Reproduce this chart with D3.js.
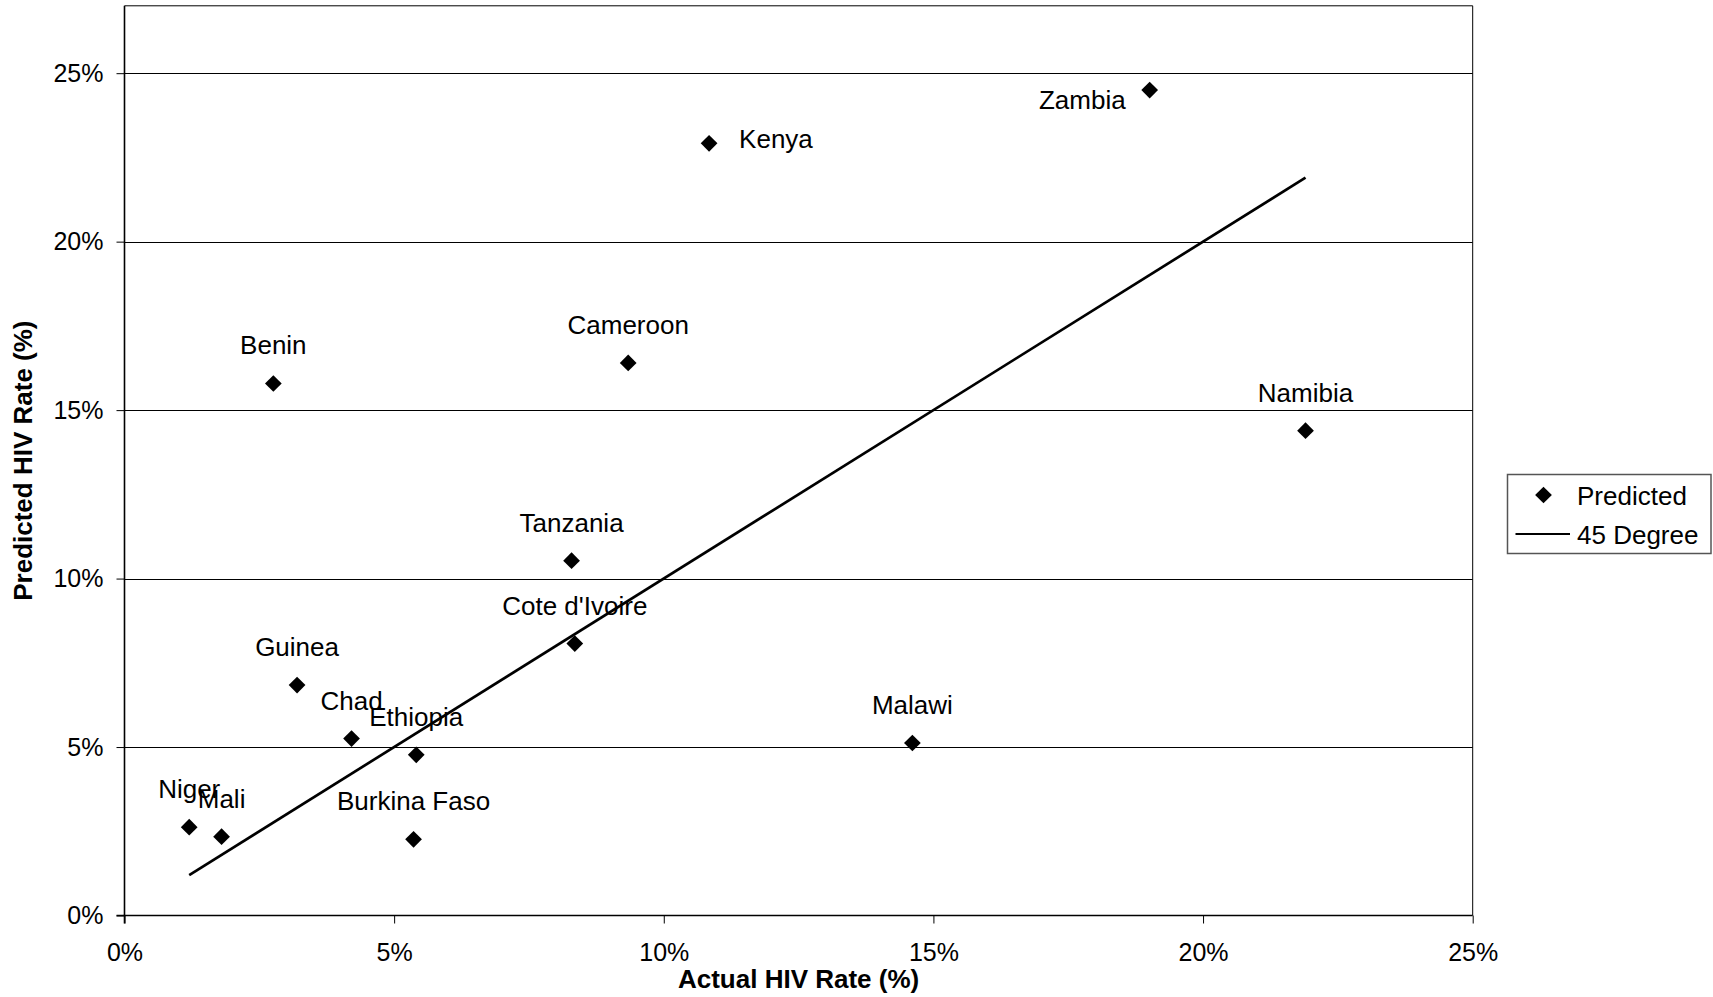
<!DOCTYPE html>
<html>
<head>
<meta charset="utf-8">
<script src="https://cdn.jsdelivr.net/npm/d3@7/dist/d3.min.js"></script>
<style>
  html, body { margin: 0; padding: 0; background: #fff; }
  svg { display: block; font-family: "Liberation Sans", Arial, sans-serif; }
</style>
</head>
<body>
<svg id="chart" width="1713" height="997"></svg>
<script>
// ---- Data ----
const countries = ["Niger", "Mali", "Benin", "Guinea", "Chad", "Ethiopia", "Burkina Faso",
                   "Tanzania", "Cote d'Ivoire", "Cameroon", "Kenya", "Malawi", "Zambia", "Namibia"];
const actual    = [1.20, 1.80, 2.76, 3.20, 4.21, 5.41, 5.36, 8.29, 8.35, 9.34, 10.84, 14.61, 19.01, 21.90];
const predicted = [2.62, 2.34, 15.79, 6.84, 5.25, 4.77, 2.26, 10.53, 8.07, 16.40, 22.92, 5.12, 24.50, 14.39];
const labelSide = { "Zambia": "left", "Kenya": "right" };
const xTicks = [0, 5, 10, 15, 20, 25];
const yTicks = [0, 5, 10, 15, 20, 25];
const seriesNames = ["Predicted", "45 Degree"];

// ---- Layout ----
const svg = d3.select("#chart");
const pL = 124.5, pR = 1472.7, pT = 5.8, pB = 915.5;
const x = d3.scaleLinear().domain([0, 25]).range([pL, pR]);
const y = d3.scaleLinear().domain([0, 27]).range([pB, pT]);
const fontSize = 25;

// Gridlines
svg.append("g").selectAll("line").data(yTicks.filter(t => t > 0)).join("line")
  .attr("x1", pL).attr("x2", pR)
  .attr("y1", d => Math.round(y(d)) + 0.5).attr("y2", d => Math.round(y(d)) + 0.5)
  .attr("stroke", "#000").attr("stroke-width", 1);

// Frame top/right
svg.append("path")
  .attr("d", `M${pL},${pT}H${pR}V${pB}`)
  .attr("fill", "none").attr("stroke", "#000").attr("stroke-width", 1);

// Axes
const xAxis = d3.axisBottom(x).tickValues(xTicks).tickFormat(d => d + "%").tickSize(8).tickPadding(20);
const yAxis = d3.axisLeft(y).tickValues(yTicks).tickFormat(d => d + "%").tickSize(8).tickPadding(13);

const gx = svg.append("g").attr("transform", `translate(0,${pB})`).call(xAxis);
const gy = svg.append("g").attr("transform", `translate(${pL},0)`).call(yAxis);
[gx, gy].forEach(g => {
  g.select(".domain").attr("stroke", "#000").attr("stroke-width", 1.6);
  g.selectAll(".tick line").attr("stroke", "#000").attr("stroke-width", 1);
  g.selectAll(".tick text").attr("fill", "#000").style("font-size", fontSize + "px")
    .style("font-family", "'Liberation Sans', Arial, sans-serif");
});
gy.select(".domain").attr("d", `M-8,${pB}H0V${pT}`);
gx.select(".domain").attr("d", `M${pL},8V0H${pR}`);

// Axis titles
svg.append("text")
  .attr("x", (pL + pR) / 2).attr("y", 988)
  .attr("text-anchor", "middle")
  .style("font-size", "26px").style("font-weight", "bold")
  .text("Actual HIV Rate (%)");
svg.append("text")
  .attr("transform", `translate(32,${(pT + pB) / 2}) rotate(-90)`)
  .attr("text-anchor", "middle")
  .style("font-size", "26px").style("font-weight", "bold")
  .text("Predicted HIV Rate (%)");

// 45 degree line
const lo = d3.min(actual), hi = d3.max(actual);
svg.append("path")
  .datum([lo, hi])
  .attr("d", d3.line().x(d => x(d)).y(d => y(d)))
  .attr("stroke", "#000").attr("stroke-width", 2.7).attr("fill", "none");

// Points
const data = countries.map((c, i) => ({ name: c, ax: actual[i], py: predicted[i] }));
const diamond = d3.symbol(d3.symbolSquare, 140);
svg.append("g").selectAll("path").data(data).join("path")
  .attr("d", diamond)
  .attr("transform", d => `translate(${x(d.ax)},${y(d.py)}) rotate(45)`)
  .attr("fill", "#000");

// Labels
svg.append("g").selectAll("text").data(data).join("text")
  .attr("x", d => {
    const s = labelSide[d.name];
    return x(d.ax) + (s === "left" ? -24 : s === "right" ? 30 : 0);
  })
  .attr("y", d => {
    const s = labelSide[d.name];
    return y(d.py) + (s === "left" ? 19 : s === "right" ? 5 : -29);
  })
  .attr("text-anchor", d => {
    const s = labelSide[d.name];
    return s === "left" ? "end" : s === "right" ? "start" : "middle";
  })
  .style("font-size", "26px")
  .text(d => d.name);

// Legend
const lg = svg.append("g");
lg.append("rect").attr("x", 1507.5).attr("y", 474.5).attr("width", 203.5).attr("height", 79)
  .attr("fill", "#fff").attr("stroke", "#555").attr("stroke-width", 1.5);
lg.append("path").attr("d", diamond).attr("transform", "translate(1543.5,495) rotate(45)").attr("fill", "#000");
lg.append("line").attr("x1", 1515.5).attr("x2", 1570).attr("y1", 534).attr("y2", 534)
  .attr("stroke", "#000").attr("stroke-width", 2.2);
lg.selectAll("text.leg").data(seriesNames).join("text").attr("class", "leg")
  .attr("x", 1577).attr("y", (d, i) => 505 + i * 38.5)
  .style("font-size", "26px").text(d => d);
</script>
</body>
</html>
